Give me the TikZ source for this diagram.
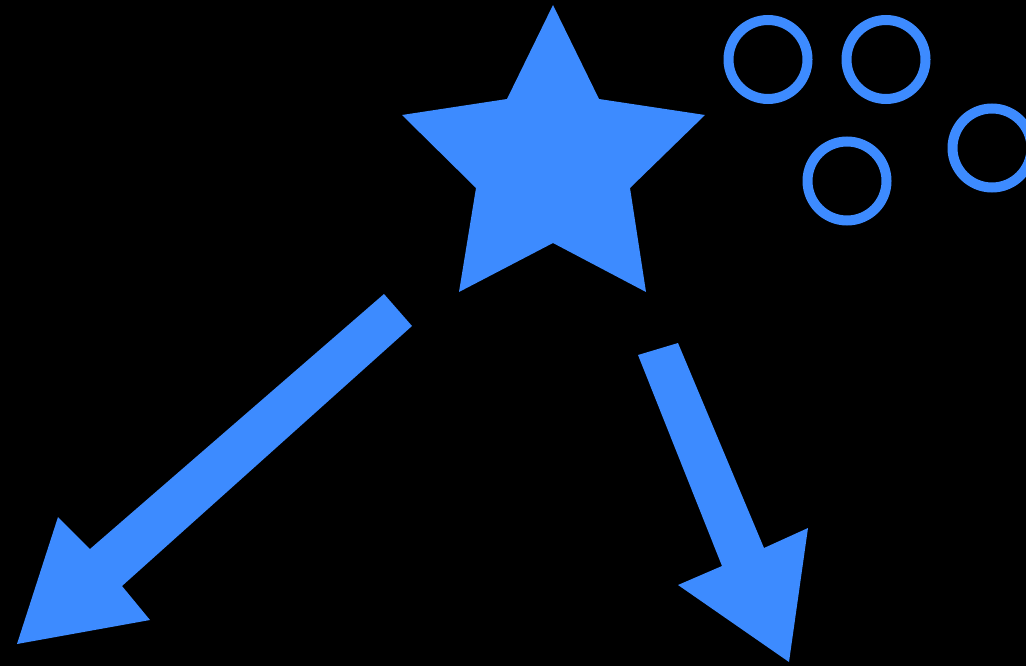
\documentclass[tikz,border=0pt]{standalone}
\definecolor{sblue}{HTML}{3D8BFF}
\begin{document}
\begin{tikzpicture}[x=1pt,y=-1pt,
  shapefill/.style={fill=sblue,draw=none},
  ring/.style={draw=sblue,line width=10pt,fill=none}]
\fill[black] (0,0) rectangle (1026,666);
\useasboundingbox (0,0) rectangle (1026,666);
% star
\path[shapefill] (553,5) -- (599,99) -- (705,115) -- (630,188) -- (646,292)
  -- (553,243) -- (459,292) -- (476,188) -- (402,115) -- (507,99) -- cycle;
% left arrow
\path[shapefill] (384,294) -- (412,326) -- (122,586) -- (150,620) -- (17,644)
  -- (58,517) -- (90,549) -- cycle;
% right arrow
\path[shapefill] (638,355) -- (678,343) -- (764,548) -- (808,528) -- (789,662)
  -- (678,585) -- (722,566) -- cycle;
% rings
\draw[ring] (768,59.5) circle (39.5);
\draw[ring] (886,59.5) circle (39.5);
\draw[ring] (847,181) circle (39.5);
\draw[ring] (992,148) circle (39.5);
\end{tikzpicture}
\end{document}
